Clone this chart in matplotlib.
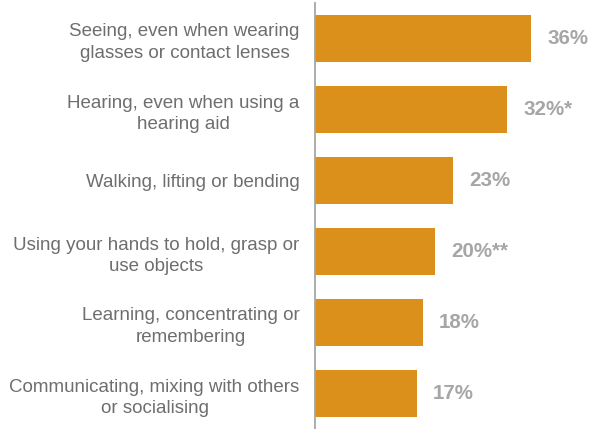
import matplotlib
matplotlib.use("Agg")
import matplotlib.pyplot as plt

categories = [
    "Seeing, even when wearing\nglasses or contact lenses",
    "Hearing, even when using a\nhearing aid",
    "Walking, lifting or bending",
    "Using your hands to hold, grasp or\nuse objects",
    "Learning, concentrating or\nremembering",
    "Communicating, mixing with others\nor socialising",
]
values = [36, 32, 23, 20, 18, 17]
value_labels = ["36%", "32%*", "23%", "20%**", "18%", "17%"]

plt.rcParams["font.family"] = ["Liberation Sans", "DejaVu Sans"]

fig = plt.figure(figsize=(5.92, 4.29), dpi=100)
ax = fig.add_axes([315 / 592, 0, 277 / 592, 426 / 429])

ypos = list(range(len(categories)))
ax.barh(ypos, values, height=0.66, color="#DB901C", edgecolor="none")

for y, v, lab in zip(ypos, values, value_labels):
    ax.annotate(lab, xy=(v, y), xytext=(16, 0), textcoords="offset pixels",
                ha="left", va="center", fontsize=14.8, fontweight="bold",
                color="#A6A6A6")

ax.set_xlim(0, 277 / 6)
ax.set_ylim(len(categories) - 0.5, -0.5)
ax.set_yticks(ypos)
ax.set_yticklabels(categories, fontsize=13.5, color="#6E6E6E",
                   multialignment="center", linespacing=1.33)
ax.tick_params(axis="y", length=0, pad=11)
ax.set_xticks([])

for side in ["top", "right", "bottom"]:
    ax.spines[side].set_visible(False)
ax.spines["left"].set_color("#A6A6A6")
ax.spines["left"].set_linewidth(1.3)

fig.savefig("out.png", dpi=100)
